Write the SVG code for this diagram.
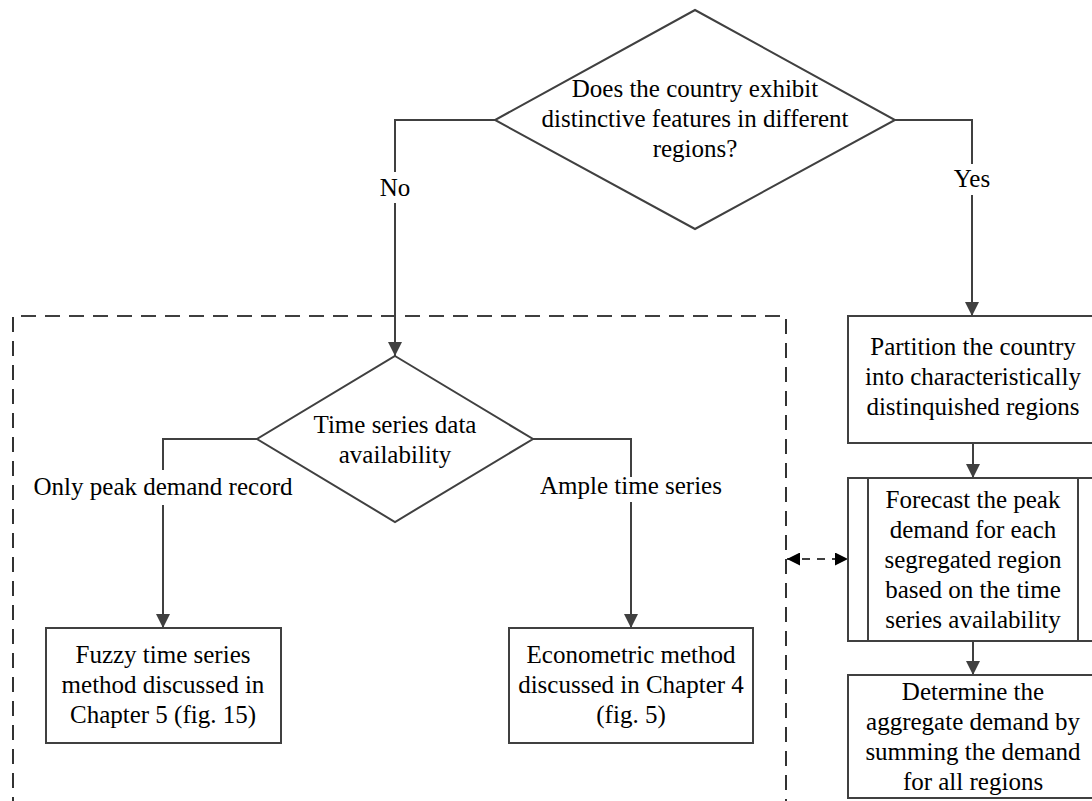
<svg xmlns="http://www.w3.org/2000/svg" width="1092" height="801" viewBox="0 0 1092 801">
<style>
.shape{fill:#fff;stroke:#404040;stroke-width:2}
.conn{fill:none;stroke:#404040;stroke-width:2}
.dash{fill:none;stroke:#000;stroke-width:1.6;stroke-dasharray:15,9}
.dashar{fill:none;stroke:#000;stroke-width:1.6;stroke-dasharray:8,7}
text{font-family:"Liberation Serif","Times New Roman",serif;font-size:25px;fill:#000;text-anchor:middle}
</style>
<defs>
<marker id="ah" viewBox="0 0 14 14" refX="14" refY="7" markerWidth="14" markerHeight="14" markerUnits="userSpaceOnUse" orient="auto">
<path d="M0,0 L14,7 L0,14 z" fill="#404040"/>
</marker>
<marker id="ahb" viewBox="0 0 14 14" refX="14" refY="7" markerWidth="13" markerHeight="13" markerUnits="userSpaceOnUse" orient="auto-start-reverse">
<path d="M0,0 L14,7 L0,14 z" fill="#000"/>
</marker>
</defs>
<rect width="1092" height="801" fill="#fff"/>
<g id="group-box">
<path class="dash" d="M13,812 V316 H786 V812"/>
</g>
<g id="connectors">
<path class="conn" d="M895,120 H972 V164"/>
<path class="conn" d="M972,195 V316" marker-end="url(#ah)"/>
<path class="conn" d="M495,120 H395 V172"/>
<path class="conn" d="M395,203 V356" marker-end="url(#ah)"/>
<path class="conn" d="M257,439 H163 V470"/>
<path class="conn" d="M163,505 V628" marker-end="url(#ah)"/>
<path class="conn" d="M533,439 H631 V477"/>
<path class="conn" d="M631,502 V628" marker-end="url(#ah)"/>
<path class="conn" d="M973,443 V478" marker-end="url(#ah)"/>
<path class="conn" d="M973,641 V675" marker-end="url(#ah)"/>
<path class="dashar" d="M787,559 H848" marker-start="url(#ahb)" marker-end="url(#ahb)"/>
<text x="395" y="196">No</text>
<text x="972" y="187">Yes</text>
<text x="163" y="495">Only peak demand record</text>
<text x="631" y="494">Ample time series</text>
</g>
<g id="decision-regions">
<polygon class="shape" points="695,10 895,120 695,229 495,120"/>
<text x="695" y="97">Does the country exhibit</text>
<text x="695" y="127">distinctive features in different</text>
<text x="695" y="157">regions?</text>
</g>
<g id="decision-data">
<polygon class="shape" points="395,356 533,439 395,522 257,439"/>
<text x="395" y="433">Time series data</text>
<text x="395" y="463">availability</text>
</g>
<g id="fuzzy">
<rect class="shape" x="46" y="628" width="235" height="115"/>
<text x="163" y="663">Fuzzy time series</text>
<text x="163" y="693">method discussed in</text>
<text x="163" y="723">Chapter 5 (fig. 15)</text>
</g>
<g id="econometric">
<rect class="shape" x="509" y="628" width="244" height="115"/>
<text x="631" y="663">Econometric method</text>
<text x="631" y="693">discussed in Chapter 4</text>
<text x="631" y="723">(fig. 5)</text>
</g>
<g id="partition">
<rect class="shape" x="848" y="316" width="250" height="127"/>
<text x="973" y="355">Partition the country</text>
<text x="973" y="385">into characteristically</text>
<text x="973" y="415">distinquished regions</text>
</g>
<g id="forecast">
<rect class="shape" x="848" y="478" width="250" height="163"/>
<line class="conn" x1="868" y1="478" x2="868" y2="641"/>
<line class="conn" x1="1078" y1="478" x2="1078" y2="641"/>
<text x="973" y="508">Forecast the peak</text>
<text x="973" y="538">demand for each</text>
<text x="973" y="568">segregated region</text>
<text x="973" y="598">based on the time</text>
<text x="973" y="628">series availability</text>
</g>
<g id="aggregate">
<rect class="shape" x="848" y="675" width="250" height="123"/>
<text x="973" y="700">Determine the</text>
<text x="973" y="730">aggregate demand by</text>
<text x="973" y="760">summing the demand</text>
<text x="973" y="790">for all regions</text>
</g>
</svg>
